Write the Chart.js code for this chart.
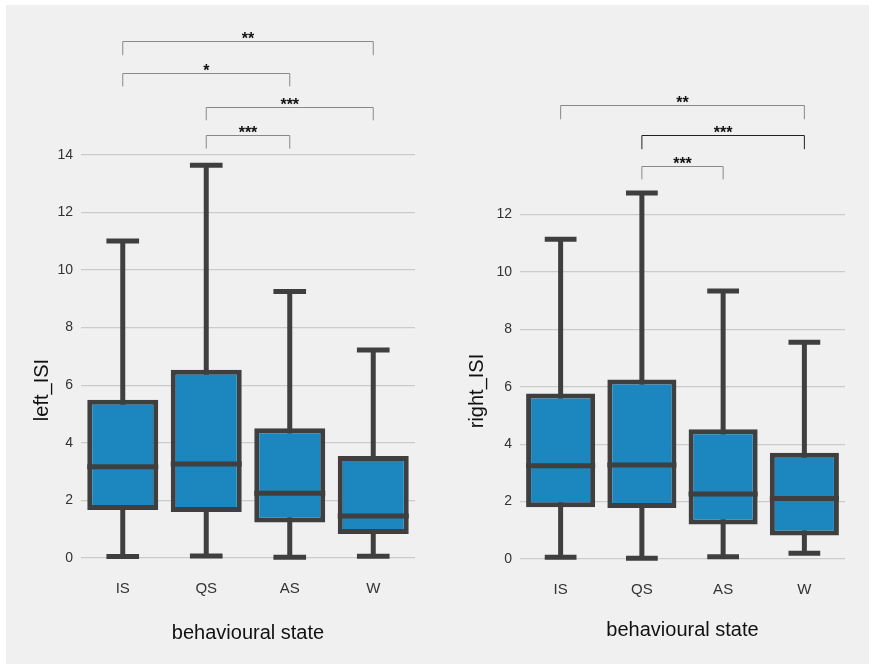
<!DOCTYPE html>
<html>
<head>
<meta charset="utf-8">
<script src="https://cdn.jsdelivr.net/npm/chart.js@4.4.0/dist/chart.umd.min.js"></script>
<style>
html, body { margin: 0; padding: 0; background: #fff; }
#panel { position: absolute; left: 6px; top: 5px; width: 863px; height: 659px; background: #f0f0f0; }
canvas { position: absolute; top: 0; }
#leftChart { left: 0; }
#rightChart { left: 435px; }
</style>
</head>
<body>
<div id="panel"></div>
<canvas id="leftChart" width="435" height="664"></canvas>
<canvas id="rightChart" width="434" height="664"></canvas>
<script>
const states = ['IS', 'QS', 'AS', 'W'];

// left_ISI box stats
const leftLow = [0.05, 0.07, 0.03, 0.06];
const leftQ1 = [1.67, 1.6, 1.23, 0.83];
const leftMedian = [3.17, 3.26, 2.25, 1.46];
const leftQ3 = [5.49, 6.53, 4.5, 3.54];
const leftHigh = [11.0, 13.63, 9.25, 7.22];

// right_ISI box stats
const rightLow = [0.06, 0.03, 0.08, 0.2];
const rightQ1 = [1.8, 1.78, 1.2, 0.82];
const rightMedian = [3.25, 3.27, 2.26, 2.11];
const rightQ3 = [5.76, 6.25, 4.52, 3.7];
const rightHigh = [11.13, 12.74, 9.33, 7.55];

// significance brackets
const leftPairs = [[0, 3], [0, 2], [1, 3], [1, 2]];
const leftStars = ['**', '*', '***', '***'];
const leftLevels = [17.93, 16.85, 15.67, 14.69];

const rightPairs = [[0, 3], [1, 3], [1, 2]];
const rightStars = ['**', '***', '***'];
const rightLevels = [15.79, 14.75, 13.7];

Chart.defaults.font.family = "'Liberation Sans', Arial, sans-serif";

const boxColor = '#1b87be';
const lineColor = '#3f3f3f';

const boxExtras = {
	id: 'boxExtras',
	beforeDatasetsDraw(chart, args, opts) {
		const ctx = chart.ctx;
		const y = chart.scales.y;
		const meta = chart.getDatasetMeta(0);
		ctx.save();
		ctx.strokeStyle = lineColor;
		ctx.lineWidth = 5;
		meta.data.forEach(function (el, i) {
			let lo = y.getPixelForValue(opts.low[i]);
			let hi = y.getPixelForValue(opts.high[i]);
			let cw = el.width * 0.46;
			ctx.beginPath();
			ctx.moveTo(el.x, lo);
			ctx.lineTo(el.x, hi);
			ctx.moveTo(el.x - cw / 2, lo);
			ctx.lineTo(el.x + cw / 2, lo);
			ctx.moveTo(el.x - cw / 2, hi);
			ctx.lineTo(el.x + cw / 2, hi);
			ctx.stroke();
		});
		ctx.restore();
	},
	afterDatasetsDraw(chart, args, opts) {
		const ctx = chart.ctx;
		const y = chart.scales.y;
		const meta = chart.getDatasetMeta(0);
		ctx.save();
		ctx.strokeStyle = lineColor;
		ctx.lineWidth = 5;
		meta.data.forEach(function (el, i) {
			let m = y.getPixelForValue(opts.median[i]);
			ctx.beginPath();
			ctx.moveTo(el.x - el.width / 2, m);
			ctx.lineTo(el.x + el.width / 2, m);
			ctx.stroke();
		});
		ctx.restore();
	},
	afterDraw(chart, args, opts) {
		const ctx = chart.ctx;
		const x = chart.scales.x;
		const y = chart.scales.y;
		ctx.save();
		opts.pairs.forEach(function (p, i) {
			let x1 = x.getPixelForValue(p[0]);
			let x2 = x.getPixelForValue(p[1]);
			let top = Math.round(y.getPixelForValue(opts.levels[i])) + 0.5;
			let leg = y.getPixelForValue(opts.levels[i] - 0.48);
			ctx.strokeStyle = opts.bracketColors[i];
			ctx.lineWidth = 1;
			ctx.beginPath();
			ctx.moveTo(x1, leg);
			ctx.lineTo(x1, top);
			ctx.lineTo(x2, top);
			ctx.lineTo(x2, leg);
			ctx.stroke();
			ctx.fillStyle = '#111';
			ctx.font = "bold 16px 'Liberation Sans', Arial, sans-serif";
			ctx.textAlign = 'center';
			ctx.textBaseline = 'alphabetic';
			ctx.fillText(opts.stars[i], (x1 + x2) / 2, top + 2);
		});
		// y axis title
		ctx.fillStyle = '#111';
		ctx.font = "20px 'Liberation Sans', Arial, sans-serif";
		ctx.textAlign = 'center';
		ctx.textBaseline = 'middle';
		ctx.translate(42, chart.chartArea.bottom - 168);
		ctx.rotate(-Math.PI / 2);
		ctx.fillText(opts.yTitle, 0, 0);
		ctx.restore();
	}
};

function makeChart(id, q1, q3, extras, yMax, pad, axisW, axisH, titlePad) {
	let ranges = q1.map(function (v, i) {
		return [v, q3[i]];
	});
	return new Chart(document.getElementById(id), {
		type: 'bar',
		data: {
			labels: states,
			datasets: [{
				data: ranges,
				backgroundColor: boxColor,
				borderColor: lineColor,
				borderWidth: 5,
				borderSkipped: false,
				barPercentage: 0.85,
				categoryPercentage: 1
			}]
		},
		options: {
			responsive: false,
			animation: false,
			events: [],
			layout: { padding: pad },
			plugins: {
				legend: { display: false },
				tooltip: { enabled: false },
				boxExtras: extras
			},
			scales: {
				x: {
					grid: { display: false, drawTicks: false },
					border: { display: false },
					ticks: { color: '#333', font: { size: 15 }, padding: 22 },
					title: {
						display: true,
						text: 'behavioural state',
						color: '#111',
						font: { size: 20 },
						padding: { top: 0, bottom: titlePad }
					},
					afterFit: function (s) { s.height = axisH; }
				},
				y: {
					min: 0,
					max: yMax,
					grid: { color: '#cbcbcb', lineWidth: 1.2, drawTicks: false },
					border: { display: false },
					ticks: { stepSize: 2, includeBounds: false, color: '#333', font: { size: 14 }, padding: 8 },
					afterFit: function (s) { s.width = axisW; }
				}
			}
		},
		plugins: [boxExtras]
	});
}

makeChart('leftChart', leftQ1, leftQ3, {
	low: leftLow, median: leftMedian, high: leftHigh,
	pairs: leftPairs, stars: leftStars, levels: leftLevels,
	bracketColors: ['#888', '#888', '#888', '#888'],
	yTitle: 'left_ISI'
}, 14.3, { top: 146, right: 20, bottom: 0, left: 0 }, 81, 106, 19);

makeChart('rightChart', rightQ1, rightQ3, {
	low: rightLow, median: rightMedian, high: rightHigh,
	pairs: rightPairs, stars: rightStars, levels: rightLevels,
	bracketColors: ['#888', '#222', '#888'],
	yTitle: 'right_ISI'
}, 13.3, { top: 177, right: 24, bottom: 0, left: 0 }, 85, 105, 22);
</script>
</body>
</html>
